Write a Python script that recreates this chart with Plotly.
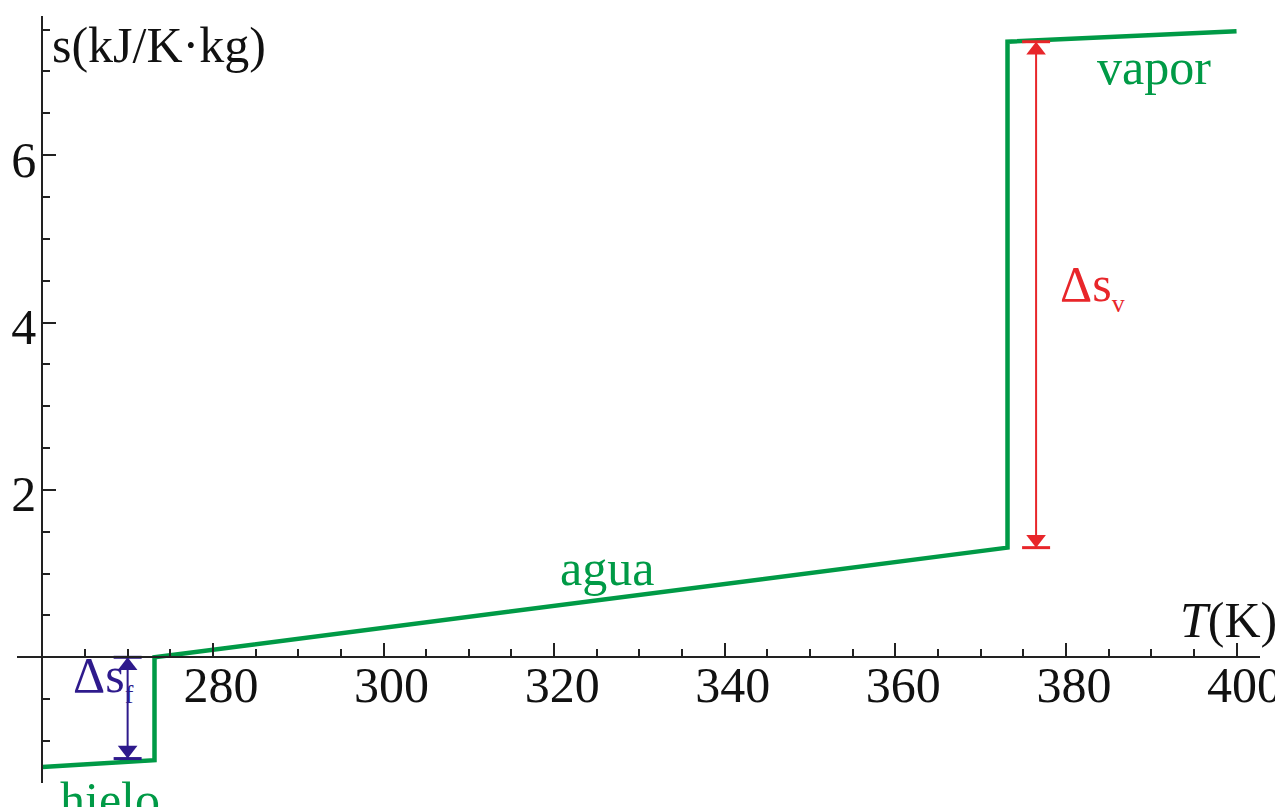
import plotly.graph_objects as go

# ---- data ----
T_hielo = [260.0, 273.15]
s_hielo = [-1.31, -1.23]
T_agua = [273.15, 373.15]
s_agua = [0.0, 1.31]
T_vapor = [373.15, 400.0]
s_vapor = [7.355, 7.48]

# phase-change arrows
T_fusion_arrow = 270.0
s_fusion = [0.0, -1.21]
T_vap_arrow = 376.5
s_vap = [1.31, 7.355]

x_ticks = [280, 300, 320, 340, 360, 380, 400]
y_ticks = [2, 4, 6]

# ---- layout geometry (page body has an 8px margin) ----
W, H = 1283, 807
ml, mr, mt, mb = 9, 31, 8, 32
x_range = [257.03, 402.75]
y_range = [-1.502, 7.662]
plot_w = W - ml - mr
plot_h = H - mt - mb
ppu_y = plot_h / (y_range[1] - y_range[0])


def xf(v):
    return (v - x_range[0]) / (x_range[1] - x_range[0])


def yf(v):
    return (v - y_range[0]) / (y_range[1] - y_range[0])


GREEN = "#009a46"
RED = "#e8262a"
BLUE = "#2e1a8c"
AXC = "#222222"
TXT = "#111111"
FONT = "Liberation Serif"
FS = 50

fig = go.Figure()

# entropy curve: ice -> jump -> water -> jump -> vapor
T_all = T_hielo + T_agua + T_vapor
s_all = s_hielo + s_agua + s_vapor
fig.add_trace(go.Scatter(x=T_all, y=s_all, mode="lines",
                         line=dict(color=GREEN, width=4.5),
                         hoverinfo="skip", showlegend=False, cliponaxis=False))


def double_arrow(xv, s_pair, color):
    lo, hi = min(s_pair), max(s_pair)
    r = 8.5  # triangle marker radius in px
    off = r / ppu_y
    fig.add_trace(go.Scatter(x=[xv, xv], y=[lo, hi], mode="lines",
                             line=dict(color=color, width=2),
                             hoverinfo="skip", showlegend=False))
    fig.add_trace(go.Scatter(x=[xv, xv], y=[lo, hi], mode="markers",
                             marker=dict(symbol="line-ew", size=20,
                                         line=dict(color=color, width=3)),
                             hoverinfo="skip", showlegend=False))
    fig.add_trace(go.Scatter(x=[xv], y=[hi - off], mode="markers",
                             marker=dict(symbol="triangle-up", size=2 * r,
                                         color=color, line=dict(width=0)),
                             hoverinfo="skip", showlegend=False))
    fig.add_trace(go.Scatter(x=[xv], y=[lo + off], mode="markers",
                             marker=dict(symbol="triangle-down", size=2 * r,
                                         color=color, line=dict(width=0)),
                             hoverinfo="skip", showlegend=False))


double_arrow(T_vap_arrow, s_vap, RED)
double_arrow(T_fusion_arrow, s_fusion, BLUE)

fig.update_layout(
    width=W, height=H,
    margin=dict(l=ml, r=mr, t=mt, b=mb, autoexpand=False),
    paper_bgcolor="white", plot_bgcolor="white",
    font=dict(family=FONT, size=FS, color=TXT),
    xaxis=dict(range=x_range, anchor="free", position=yf(0), side="bottom",
               automargin=False,
               showline=True, linecolor=AXC, linewidth=2,
               showgrid=False, zeroline=False,
               tickmode="array", tickvals=x_ticks,
               ticks="inside", ticklen=13, tickwidth=2, tickcolor=AXC,
               ticklabelstandoff=-16, ticklabelshift=8,
               tickfont=dict(family=FONT, size=FS, color=TXT),
               minor=dict(tickmode="linear", tick0=260, dtick=5,
                          ticks="inside", ticklen=7, tickwidth=2,
                          tickcolor=AXC, showgrid=False)),
    yaxis=dict(range=y_range, anchor="free", position=xf(260), side="left",
               automargin=False,
               showline=True, linecolor=AXC, linewidth=2,
               showgrid=False, zeroline=False,
               tickmode="array", tickvals=y_ticks,
               ticks="inside", ticklen=13, tickwidth=2, tickcolor=AXC,
               ticklabelstandoff=-5, ticklabelshift=4,
               tickfont=dict(family=FONT, size=FS, color=TXT),
               minor=dict(tickmode="linear", tick0=0, dtick=0.5,
                          ticks="inside", ticklen=7, tickwidth=2,
                          tickcolor=AXC, showgrid=False)),
)

SUB = "<sub><span style='font-size:26px'>{}</span></sub>"
ann = [
    dict(text="s(kJ/K·kg)", x=260.9, y=7.31, xanchor="left", color=TXT),
    dict(text="<i>T</i>(K)", x=405.0, y=0.45, xanchor="right", color=TXT),
    dict(text="vapor", x=390.3, y=7.05, xanchor="center", color=GREEN),
    dict(text="agua", x=326.2, y=1.07, xanchor="center", color=GREEN),
    dict(text="hielo", x=267.9, y=-1.70, xanchor="center", color=GREEN),
    dict(text="Δs" + SUB.format("v"), x=379.1, y=4.42, xanchor="left", color=RED),
    dict(text="Δs" + SUB.format("f"), x=263.4, y=-0.25, xanchor="left", color=BLUE),
]
for a in ann:
    fig.add_annotation(xref="paper", yref="paper", showarrow=False,
                       text=a["text"], x=xf(a["x"]), y=yf(a["y"]),
                       xanchor=a["xanchor"], yanchor="middle",
                       font=dict(family=FONT, size=FS, color=a["color"]))

fig.write_html("out.html")
